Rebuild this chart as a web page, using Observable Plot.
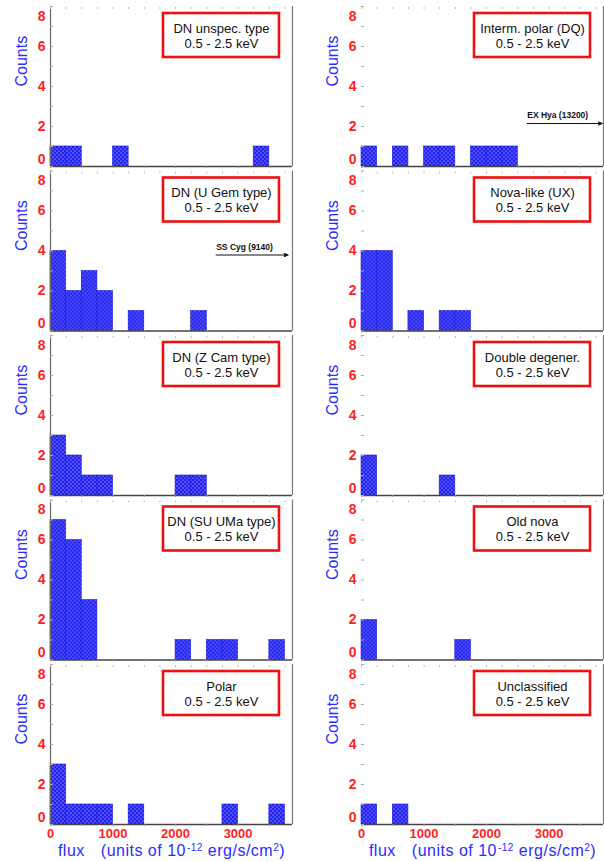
<!DOCTYPE html>
<html><head><meta charset="utf-8">
<script src="https://cdn.jsdelivr.net/npm/d3@7"></script>
<script src="https://cdn.jsdelivr.net/npm/@observablehq/plot@0.6"></script>
<style>body{margin:0;background:#fff} #chart svg{display:block}</style>
</head><body><div id="chart"></div>
<script>
// ---- data ----
const panelNames = ["DN unspec. type", "Interm. polar (DQ)", "DN (U Gem type)", "Nova-like (UX)",
  "DN (Z Cam type)", "Double degener.", "DN (SU UMa type)", "Old nova", "Polar", "Unclassified"];
const panelRows = [0, 0, 1, 1, 2, 2, 3, 3, 4, 4];
const panelCols = [0, 1, 0, 1, 0, 1, 0, 1, 0, 1];
const energyBand = "0.5 - 2.5 keV";
const binWidth = 250; // flux bin width, 10^-12 erg/s/cm2
// counts per flux bin, bin k = [k*250, (k+1)*250)
const countsDNunspec = [1, 1, 0, 0, 1, 0, 0, 0, 0, 0, 0, 0, 0, 1];
const countsIP       = [1, 0, 1, 0, 1, 1, 0, 1, 1, 1];
const countsUGem     = [4, 2, 3, 2, 0, 1, 0, 0, 0, 1];
const countsUX       = [4, 4, 0, 1, 0, 1, 1];
const countsZCam     = [3, 2, 1, 1, 0, 0, 0, 0, 1, 1];
const countsDD       = [2, 0, 0, 0, 0, 1];
const countsSUUMa    = [7, 6, 3, 0, 0, 0, 0, 0, 1, 0, 1, 1, 0, 0, 1];
const countsOldNova  = [2, 0, 0, 0, 0, 0, 1];
const countsPolar    = [3, 1, 1, 1, 0, 1, 0, 0, 0, 0, 0, 1, 0, 0, 1];
const countsUncl     = [1, 0, 1];
const panelCounts = [countsDNunspec, countsIP, countsUGem, countsUX, countsZCam,
  countsDD, countsSUUMa, countsOldNova, countsPolar, countsUncl];
const yTickLabels = [2, 4, 6];
const yTopLabel = [8];
const yZeroLabel = [0];
const xTickLabels = [0, 1000, 2000, 3000];
const xMax = 3870, yMax = 8;
// off-scale sources (arrows)
const offscaleLabels = ["SS Cyg (9140)", "EX Hya (13200)"];
const offscalePanels = [2, 1];
const offscaleLevels = [3.8, 2.15];
const offscaleStart = [2650, 2650];
const offscaleEnd = [3800, 3850];

// ---- tables ----
const panels = panelNames.map((name, i) => ({name, row: panelRows[i], col: panelCols[i]}));
const bars = [];
panelCounts.forEach((arr, p) => arr.forEach((c, k) => {
  if (c > 0) bars.push({row: panelRows[p], col: panelCols[p], x1: k * binWidth, x2: (k + 1) * binWidth, count: c});
}));
const leftPanels = panels.filter(d => d.col === 0);
const offscale = offscaleLabels.map((label, i) => ({
  label, row: panelRows[offscalePanels[i]], col: panelCols[offscalePanels[i]],
  y: offscaleLevels[i], x1: offscaleStart[i], x2: offscaleEnd[i]
}));
const bottomPanels = panels.filter(d => d.row === 4);

const RED = "#ff1f1f", BLUE = "#2b2bff";
const font = "'Liberation Sans', Arial, sans-serif";

const chart = Plot.plot({
  width: 604, height: 861,
  marginLeft: 50, marginRight: 1, marginTop: 6, marginBottom: 37,
  style: {fontFamily: font, background: "white", overflow: "visible"},
  x: {domain: [0, xMax]},
  y: {domain: [0, yMax]},
  fx: {domain: [0, 1], axis: null, paddingInner: 0.222, paddingOuter: 0, round: false},
  fy: {domain: [0, 1, 2, 3, 4], axis: null, paddingInner: 0.0274, paddingOuter: 0, round: false},
  marks: [
    Plot.rectY(bars, {x1: "x1", x2: "x2", y: "count", fx: "col", fy: "row",
      fill: "url(#dotpat)", stroke: "#1c1cd0", strokeWidth: 0.6}),
    Plot.ruleY([0], {stroke: "#444", strokeWidth: 1.6}),
    Plot.ruleX(leftPanels, {x: () => 0, fx: "col", fy: "row", stroke: "#666", strokeWidth: 1.2}),
    Plot.ruleX([xMax], {stroke: "#777", strokeWidth: 1.2}),
    // inward minor ticks
    Plot.axisY({ticks: d3.range(0, 9), tickSize: 3, dx: 3, text: null, label: null, stroke: "#aaa", facetAnchor: null}),
    Plot.axisX({anchor: "top", ticks: d3.range(0, xMax, 250), tickSize: 2, dy: 2, text: null, label: null, stroke: "#bbb", facetAnchor: null}),
    Plot.axisX({anchor: "bottom", ticks: d3.range(0, xMax, 500), tickSize: 2, text: null, label: null, stroke: "#999", facetAnchor: null}),
    // tick labels
    Plot.axisY({ticks: yTickLabels, tickSize: 0, tickPadding: 5, label: null, fill: RED, fontSize: 14, fontWeight: "bold", facetAnchor: null}),
    Plot.axisY({ticks: yTopLabel, tickSize: 0, tickPadding: 5, dy: 10, label: null, fill: RED, fontSize: 14, fontWeight: "bold", facetAnchor: null}),
    Plot.axisY({ticks: yZeroLabel, tickSize: 0, tickPadding: 5, dy: -7, label: null, fill: RED, fontSize: 14, fontWeight: "bold", facetAnchor: null}),
    Plot.axisX({ticks: xTickLabels, tickSize: 0, tickPadding: 4, tickFormat: d => String(d), label: null, fill: RED, fontSize: 13, fontWeight: "bold"}),
    Plot.text(["Counts"], {text: d => d, frameAnchor: "left", dx: -29, rotate: -90, fill: BLUE, fontSize: 16}),
    Plot.text(bottomPanels, {fx: "col", fy: "row", text: () => "flux (units of 10-12 erg/s/cm2)",
      frameAnchor: "bottom", dy: 26, lineAnchor: "middle", fill: BLUE, fontSize: 16}),
    // label boxes
    Plot.dot(panels, {fx: "col", fy: "row", frameAnchor: "top-right", r: 1,
      render(index, scales) {
        const g = d3.create("svg:g");
        const right = scales.x(xMax), top = scales.y(yMax);
        for (const i of index) {
          g.append("rect").attr("x", right - 13 - 116).attr("y", top + 7)
            .attr("width", 116).attr("height", 44)
            .attr("fill", "white").attr("stroke", "#ee1111").attr("stroke-width", 2.6);
        }
        return g.node();
      }}),
    Plot.text(panels, {fx: "col", fy: "row", text: d => d.name + "\n" + energyBand,
      frameAnchor: "top-right", dx: -71, dy: 29, textAnchor: "middle", lineAnchor: "middle",
      fontSize: 13, lineHeight: 1.15, fill: "#111"}),
    // off-scale arrows
    Plot.arrow(offscale, {x1: "x1", x2: "x2", y1: "y", y2: "y", fx: "col", fy: "row",
      stroke: "#111", strokeWidth: 1.2, headLength: 5, headAngle: 40}),
    Plot.text(offscale, {x: "x1", y: "y", text: "label", fx: "col", fy: "row", textAnchor: "start",
      dy: -8, fontSize: 8.5, fontWeight: "bold", fill: "#111"})
  ]
});

// pattern for the bar fill
const svg = d3.select(chart);
const defs = svg.insert("defs", ":first-child");
const pat = defs.append("pattern").attr("id", "dotpat").attr("patternUnits", "userSpaceOnUse")
  .attr("width", 4).attr("height", 4);
pat.append("rect").attr("width", 4).attr("height", 4).attr("fill", "#2222f2");
pat.append("circle").attr("cx", 1).attr("cy", 1).attr("r", 0.85).attr("fill", "#7a7aff");
pat.append("circle").attr("cx", 3).attr("cy", 3).attr("r", 0.85).attr("fill", "#7a7aff");

// superscripts in flux label
svg.selectAll("text").filter(function() { return this.textContent.startsWith("flux"); }).each(function() {
  const t = d3.select(this);
  t.text("");
  t.append("tspan").text("flux");
  t.append("tspan").attr("dx", 16).text("(units of 10");
  t.append("tspan").attr("dx", 1).attr("baseline-shift", "super").attr("font-size", 10).text("-12");
  t.append("tspan").text(" erg/s/cm");
  t.append("tspan").attr("baseline-shift", "super").attr("font-size", 10).text("2");
  t.append("tspan").text(")");
  t.attr("letter-spacing", 0.5);
});

document.getElementById("chart").appendChild(chart);
</script>
</body></html>
